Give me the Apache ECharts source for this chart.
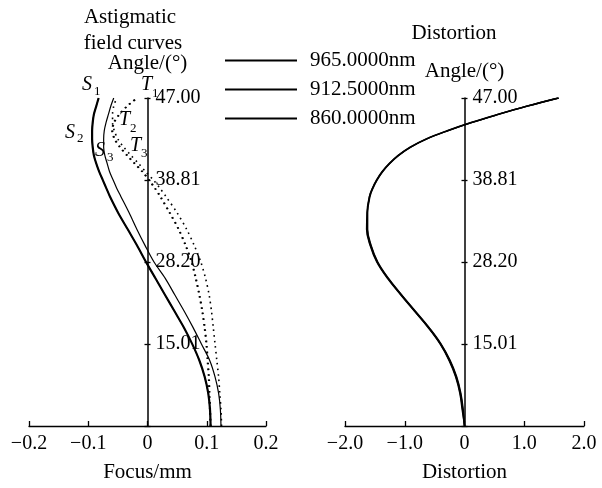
<!DOCTYPE html>
<html>
<head>
<meta charset="utf-8">
<title>Astigmatic field curves and distortion</title>
<script src="https://cdn.jsdelivr.net/npm/echarts@6/dist/echarts.min.js"></script>
<style>
  html, body { margin: 0; padding: 0; background: #fff; }
  #chart { width: 602px; height: 488px; }
</style>
</head>
<body>
<div id="chart"></div>
<script>
// relative field height (angle axis runs evenly in field, labelled in degrees)
var field = [0, 0.05, 0.1, 0.15, 0.2, 0.25, 0.3, 0.35, 0.4, 0.45, 0.5, 0.55, 0.6, 0.65, 0.7,
             0.725, 0.75, 0.775, 0.8, 0.825, 0.85, 0.875, 0.9, 0.925, 0.95, 0.975, 1.0];
var angleTicks = ['', '15.01', '28.20', '38.81', '47.00'];
var wavelengths = ['965.0000nm', '912.5000nm', '860.0000nm'];

// sagittal focus, mm
var focusS1 = [0.106, 0.105, 0.102, 0.096, 0.087, 0.075, 0.061, 0.045, 0.029, 0.013, -0.003, -0.018, -0.034, -0.050, -0.064,
               -0.070, -0.076, -0.082, -0.087, -0.091, -0.093, -0.094, -0.094, -0.093, -0.091, -0.087, -0.083];
var focusS2 = [0.107, 0.106, 0.103, 0.097, 0.088, 0.076, 0.062, 0.046, 0.030, 0.014, -0.002, -0.017, -0.033, -0.049, -0.063,
               -0.069, -0.075, -0.081, -0.086, -0.090, -0.092, -0.093, -0.093, -0.092, -0.090, -0.086, -0.082];
var focusS3 = [0.124, 0.123, 0.120, 0.114, 0.105, 0.091, 0.077, 0.062, 0.046, 0.030, 0.011, -0.004, -0.018, -0.031, -0.045,
               -0.052, -0.058, -0.064, -0.068, -0.072, -0.074, -0.074, -0.073, -0.070, -0.066, -0.062, -0.057];
// tangential focus, mm
var focusT1 = [0.106, 0.105, 0.104, 0.103, 0.101, 0.099, 0.096, 0.092, 0.087, 0.081, 0.074, 0.064, 0.052, 0.037, 0.021,
               0.012, 0.002, -0.009, -0.022, -0.035, -0.047, -0.056, -0.060, -0.057, -0.048, -0.035, -0.018];
var focusT2 = [0.107, 0.106, 0.105, 0.104, 0.102, 0.100, 0.097, 0.093, 0.088, 0.082, 0.075, 0.065, 0.053, 0.038, 0.022,
               0.013, 0.003, -0.008, -0.021, -0.034, -0.046, -0.055, -0.059, -0.056, -0.047, -0.034, -0.017];
var focusT3 = [0.125, 0.124, 0.122, 0.120, 0.117, 0.114, 0.111, 0.108, 0.104, 0.098, 0.090, 0.079, 0.066, 0.050, 0.031,
               0.021, 0.010, -0.003, -0.015, -0.028, -0.040, -0.050, -0.056, -0.059, -0.059, -0.057, -0.052];
// distortion, %
var distort965 = [0, -0.02, -0.06, -0.13, -0.24, -0.39, -0.59, -0.82, -1.05, -1.27, -1.45, -1.56, -1.62, -1.62, -1.58,
                  -1.53, -1.46, -1.37, -1.25, -1.10, -0.90, -0.63, -0.28, 0.12, 0.57, 1.05, 1.58];
var distort912 = [0, -0.03, -0.07, -0.14, -0.25, -0.40, -0.60, -0.83, -1.06, -1.28, -1.46, -1.57, -1.63, -1.63, -1.59,
                  -1.54, -1.47, -1.38, -1.26, -1.11, -0.91, -0.64, -0.29, 0.11, 0.56, 1.04, 1.57];
var distort860 = [0, -0.04, -0.08, -0.15, -0.26, -0.41, -0.61, -0.84, -1.07, -1.29, -1.47, -1.58, -1.64, -1.63, -1.59,
                  -1.54, -1.47, -1.38, -1.26, -1.11, -0.91, -0.64, -0.29, 0.11, 0.56, 1.04, 1.57];

var FONT = 'Liberation Serif';

function pairs(xs) {
  return xs.map(function (x, i) { return [x, field[i]]; });
}

function minusFmt(digits) {
  return function (v) {
    if (Math.abs(v) < 1e-9) return '0';
    return (v < 0 ? '\u2212' : '') + Math.abs(v).toFixed(digits);
  };
}

function xAxisCfg(grid, min, max, step, digits, name) {
  return {
    type: 'value', gridIndex: grid, min: min, max: max, interval: step,
    name: name, nameLocation: 'middle', nameGap: 36,
    nameTextStyle: { color: '#000', fontFamily: FONT, fontSize: 21 },
    axisLine: { onZero: false, lineStyle: { color: '#000', width: 1.3 } },
    axisTick: { inside: true, length: 5, lineStyle: { color: '#000', width: 1.3 } },
    axisLabel: { color: '#000', fontFamily: FONT, fontSize: 20, margin: 8, formatter: minusFmt(digits) },
    splitLine: { show: false }
  };
}

// y axis sits on x = 0, which is the middle of each grid
function yAxisCfg(grid, shift, nameGap) {
  return {
    type: 'value', gridIndex: grid, min: 0, max: 1, interval: 0.25, position: 'left', offset: -shift,
    name: 'Angle/(\u00b0)', nameLocation: 'end', nameGap: nameGap,
    nameTextStyle: { color: '#000', fontFamily: FONT, fontSize: 21, align: 'center' },
    axisLine: { onZero: false, lineStyle: { color: '#000', width: 1.5 } },
    axisTick: { length: 3, lineStyle: { color: '#000', width: 1.3 } },
    axisLabel: {
      inside: true, margin: 8, color: '#000', fontFamily: FONT, fontSize: 20,
      formatter: function (v) { return angleTicks[Math.round(v / 0.25)]; }
    },
    splitLine: { show: false }
  };
}

// twin axis only to draw the right half of each crossing tick
function yTwinCfg(grid, shift) {
  return {
    type: 'value', gridIndex: grid, min: 0, max: 1, interval: 0.25, position: 'right', offset: -shift,
    axisLine: { show: false, onZero: false },
    axisTick: { length: 3, lineStyle: { color: '#000', width: 1.3 } },
    axisLabel: { show: false },
    splitLine: { show: false }
  };
}

function solid(name, data, width) {
  return {
    name: name, type: 'line', xAxisIndex: 0, yAxisIndex: 0, data: pairs(data),
    smooth: 0.3, symbol: 'none', silent: true,
    itemStyle: { color: 'rgba(0,0,0,0)' },
    lineStyle: { color: '#000', width: width }
  };
}

function dotted(name, data) {
  return {
    name: name, type: 'line', xAxisIndex: 0, yAxisIndex: 0, data: pairs(data),
    smooth: 0.3, symbol: 'none', silent: true,
    itemStyle: { color: 'rgba(0,0,0,0)' },
    lineStyle: { color: '#000', width: 1.6, type: [1.6, 4] }
  };
}

function distortion(name, data, width) {
  return {
    name: name, type: 'line', xAxisIndex: 1, yAxisIndex: 2, data: pairs(data),
    smooth: 0.4, symbol: 'none', silent: true,
    itemStyle: { color: 'rgba(0,0,0,0)' },
    lineStyle: { color: '#000', width: width }
  };
}

function curveLabel(letter, sub, x, y, subDx, subDy) {
  return [
    { type: 'text', x: x, y: y, silent: true,
      style: { text: letter, fill: '#000', font: 'italic 20px "' + FONT + '"', textVerticalAlign: 'middle' } },
    { type: 'text', x: x + subDx, y: y + subDy, silent: true,
      style: { text: sub, fill: '#000', font: '13px "' + FONT + '"', textVerticalAlign: 'middle' } }
  ];
}

var titleStyle = function (text, x, y) {
  return { type: 'text', x: x, y: y, silent: true,
    style: { text: text, fill: '#000', font: '21px "' + FONT + '"', textAlign: 'center', textVerticalAlign: 'middle' } };
};

var graphics = [
  titleStyle('Astigmatic', 130, 17),
  titleStyle('field curves', 133, 43),
  titleStyle('Distortion', 454, 33)
].concat(
  curveLabel('S', '1', 82, 85, 12, 7),
  curveLabel('S', '2', 65, 133, 12, 6),
  curveLabel('S', '3', 95, 151, 12, 7),
  curveLabel('T', '1', 141, 85, 11, 9),
  curveLabel('T', '2', 119, 120, 11, 9),
  curveLabel('T', '3', 130, 146, 11, 8)
);

var chart = echarts.init(document.getElementById('chart'), null, { renderer: 'canvas' });

chart.setOption({
  backgroundColor: '#fff',
  animation: false,
  textStyle: { fontFamily: FONT },
  legend: {
    orient: 'vertical', left: 224, top: 50, padding: 0, itemWidth: 72, itemHeight: 14, itemGap: 8,
    selectedMode: false,
    data: wavelengths,
    itemStyle: { opacity: 0 },
    textStyle: { color: '#000', fontFamily: FONT, fontSize: 21, padding: [0, 0, 0, 8] }
  },
  grid: [
    { left: 29, top: 98, width: 237, height: 331 },
    { left: 345, top: 98, width: 239, height: 330 }
  ],
  xAxis: [
    xAxisCfg(0, -0.2, 0.2, 0.1, 1, 'Focus/mm'),
    xAxisCfg(1, -2, 2, 1, 1, 'Distortion')
  ],
  yAxis: [yAxisCfg(0, 118.5, 24), yTwinCfg(0, 118.5), yAxisCfg(1, 119.5, 16), yTwinCfg(1, 119.5)],
  graphic: graphics,
  series: [
    solid('S1', focusS1, 1.6),
    solid('S2', focusS2, 1.6),
    solid('S3', focusS3, 1.2),
    dotted('T1', focusT1),
    dotted('T2', focusT2),
    dotted('T3', focusT3),
    distortion(wavelengths[0], distort965, 1.3),
    distortion(wavelengths[1], distort912, 1.6),
    distortion(wavelengths[2], distort860, 1.3)
  ]
});
</script>
</body>
</html>
